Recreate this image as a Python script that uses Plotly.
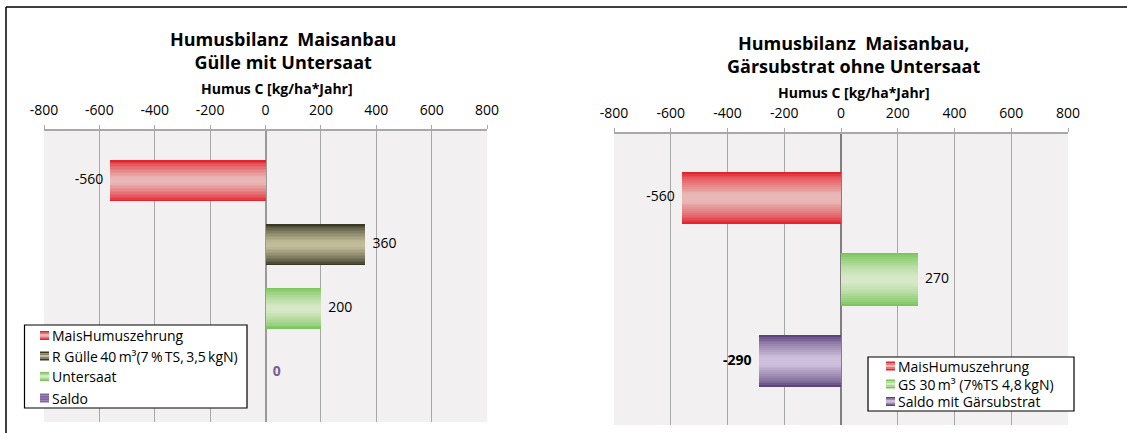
import plotly.graph_objects as go

# ---- data ----
left_categories = ["MaisHumuszehrung", "R Gülle\u200940\u2009m³(7\u2009%\u2009TS,\u20093,5\u2009kgN)",
                   "Untersaat", "Saldo"]
left_values = [-560, 360, 200, 0]
right_categories = ["MaisHumuszehrung", "GS 30\u2009m³ (7%TS 4,8\u2009kgN)", "Saldo mit Gärsubstrat"]
right_values = [-560, 270, -290]
tick_values = [-800, -600, -400, -200, 0, 200, 400, 600, 800]
tick_labels = ["-800", "-600", "-400", "-200", "0", "200", "400", "600", "800"]

left_title = "Humusbilanz  Maisanbau<br>Gülle mit Untersaat"
right_title = "Humusbilanz  Maisanbau,<br>Gärsubstrat ohne Untersaat"
axis_title = "Humus C [kg/ha*Jahr]"

# edge colour / centre colour of the banded bar fills
red = ((226, 36, 46), (233, 184, 182))
olive = ((58, 56, 38), (192, 188, 152))
green = ((124, 198, 94), (214, 232, 198))
purple = ((94, 68, 124), (206, 192, 220))
saldo_plain = ((128, 100, 162), (128, 100, 162))

left_styles = [red, olive, green, purple]
right_styles = [red, green, purple]
left_legend_styles = [red, olive, green, saldo_plain]

FONT = "Open Sans"
W, H = 1127, 433
BAR_W = 0.64
BANDS = 14


def mix(c0, c1, t):
    return "rgb(%d,%d,%d)" % tuple(round(a + (b - a) * t) for a, b in zip(c0, c1))


def px_x(p):
    return p / W


def px_y(p):
    return 1 - p / H


fig = go.Figure()


def add_panel(categories, values, styles, xa, ya, bold_labels, label_colors):
    for name, val, (edge, centre) in zip(categories, values, styles):
        # nested bars of shrinking thickness give the banded shading
        for k in range(BANDS):
            f = k / (BANDS - 1)
            t = min(1.0, f ** 0.75 * 1.08)
            fig.add_trace(go.Bar(
                x=[val], y=[name], orientation="h",
                width=BAR_W * (1 - k / BANDS),
                marker=dict(color=mix(edge, centre, t), line=dict(width=0)),
                name=name, showlegend=False,
                xaxis=xa, yaxis=ya, hoverinfo="skip",
            ))
    # value labels
    for name, val, b, col in zip(categories, values, bold_labels, label_colors):
        txt = str(val)
        if b:
            txt = "<b>%s</b>" % txt
        fig.add_trace(go.Scatter(
            x=[val], y=[name], mode="text",
            text=[(txt + "  ") if val < 0 else ("  " + txt)],
            textposition="middle left" if val < 0 else "middle right",
            textfont=dict(family=FONT, size=14, color=col),
            showlegend=False, cliponaxis=False,
            xaxis=xa, yaxis=ya, hoverinfo="skip",
        ))


add_panel(left_categories, left_values, left_styles, "x", "y",
          [False, False, False, True], ["#000", "#000", "#000", "#7B5C98"])
add_panel(right_categories, right_values, right_styles, "x2", "y2",
          [False, False, True], ["#000", "#000", "#000"])

xcommon = dict(
    range=[-800, 800], tickvals=tick_values, ticktext=tick_labels, side="top",
    showgrid=True, gridcolor="#A8A8A8", gridwidth=1.3,
    ticks="outside", ticklen=4, tickcolor="#A8A8A8", tickwidth=1.3,
    showline=True, linecolor="#A8A8A8", linewidth=2,
    tickfont=dict(family=FONT, size=14, color="#000"),
    ticklabelstandoff=4, fixedrange=True, automargin=False,
)
ycommon = dict(type="category", categoryorder="array", showticklabels=False,
               showgrid=False, zeroline=False, fixedrange=True, automargin=False)

fig.update_layout(
    width=W, height=H,
    margin=dict(l=0, r=0, t=0, b=0, pad=0, autoexpand=False),
    paper_bgcolor="white", plot_bgcolor="#F2F0F1",
    barmode="overlay", bargap=0, showlegend=False,
    font=dict(family=FONT, size=14, color="#000"),
    xaxis=dict(domain=[px_x(44), px_x(487)], anchor="y",
               zeroline=True, zerolinecolor="#9A9A9A", zerolinewidth=1.5, **xcommon),
    yaxis=dict(domain=[px_y(422), px_y(131)], anchor="x",
               categoryarray=left_categories, range=[3.775, -0.775], **ycommon),
    xaxis2=dict(domain=[px_x(614), px_x(1068)], anchor="y2",
                zeroline=True, zerolinecolor="#7F7F7F", zerolinewidth=2, **xcommon),
    yaxis2=dict(domain=[px_y(425), px_y(134)], anchor="x2",
                categoryarray=right_categories, range=[2.785, -0.785], **ycommon),
)

annotations = [
    dict(x=px_x(283), y=px_y(50), text="<b>%s</b>" % left_title,
         font=dict(family=FONT, size=18, color="#000")),
    dict(x=px_x(853), y=px_y(54), text="<b>%s</b>" % right_title,
         font=dict(family=FONT, size=18, color="#000")),
    dict(x=px_x(277), y=px_y(88), text="<b>%s</b>" % axis_title,
         font=dict(family=FONT, size=14, color="#000")),
    dict(x=px_x(854), y=px_y(93), text="<b>%s</b>" % axis_title,
         font=dict(family=FONT, size=14, color="#000")),
]
for a in annotations:
    a.update(xanchor="center", yanchor="middle")

shapes = [
    # outer frame (top and left edges)
    dict(type="line", x0=px_x(6), x1=1, y0=px_y(7), y1=px_y(7),
         line=dict(color="#000", width=1.5)),
    dict(type="line", x0=px_x(6), x1=px_x(6), y0=0, y1=px_y(7),
         line=dict(color="#000", width=1.5)),
]


def add_legend(box, names, styles, rows, swatch_x, text_x):
    x0, y0, x1, y1 = box
    shapes.append(dict(type="rect", x0=px_x(x0), x1=px_x(x1), y0=px_y(y1), y1=px_y(y0),
                       fillcolor="white", line=dict(color="#000", width=1.2)))
    for name, (edge, centre), yc in zip(names, styles, rows):
        # small banded swatch: edge / mid / centre / mid / edge
        size = 9.0
        top = yc - size / 2
        for i, t in enumerate([0.0, 0.55, 1.0, 0.55, 0.0]):
            shapes.append(dict(
                type="rect", x0=px_x(swatch_x), x1=px_x(swatch_x + size),
                y0=px_y(top + (i + 1) * size / 5), y1=px_y(top + i * size / 5),
                fillcolor=mix(edge, centre, t), line=dict(width=0)))
        annotations.append(dict(x=px_x(text_x), y=px_y(yc), text=name,
                                xanchor="left", yanchor="middle",
                                font=dict(family=FONT, size=14, color="#000")))


add_legend((24.5, 325, 247, 408), left_categories, left_legend_styles,
           [335.5, 356, 376.5, 398], 40, 50)
add_legend((868, 357, 1074, 411), right_categories, right_styles,
           [366, 384, 401.5], 886, 896)

for s in shapes:
    s.update(xref="paper", yref="paper", layer="above")
for a in annotations:
    a.update(xref="paper", yref="paper", showarrow=False)

fig.update_layout(shapes=shapes, annotations=annotations)

fig.write_html(
    "out.html",
    post_script="document.body.style.margin='0';document.body.style.overflow='hidden';",
)
